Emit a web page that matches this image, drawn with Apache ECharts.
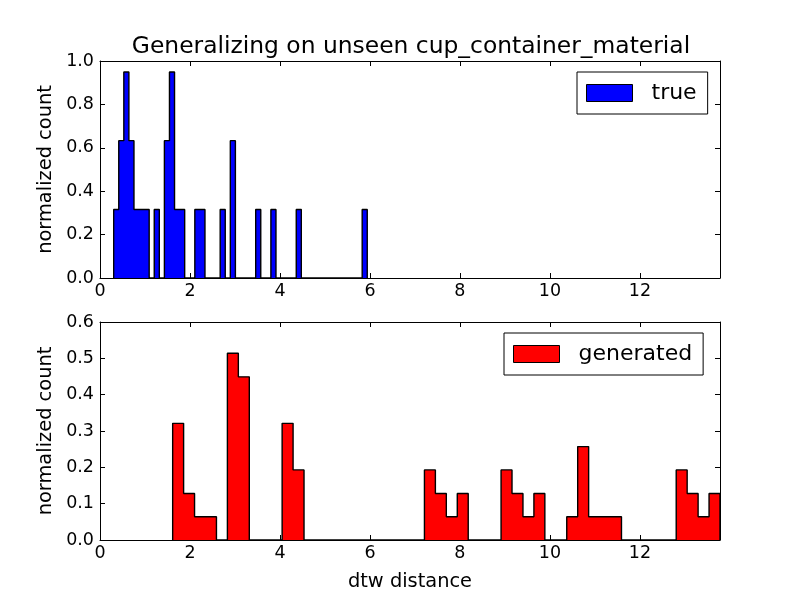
<!DOCTYPE html>
<html>
<head>
<meta charset="utf-8">
<script src="https://cdn.jsdelivr.net/npm/echarts@6/dist/echarts.min.js"></script>
<style>
  html, body { margin: 0; padding: 0; background: #fff; }
  #chart { width: 800px; height: 600px; }
</style>
</head>
<body>
<div id="chart"></div>
<script>
// histogram ranges (first edge, last edge), 50 bins each
const trueRange = [0.304, 5.94];
const genRange = [1.615, 13.78];

// normalized count per bin
const trueHeights = [
  0.316, 0.633, 0.949, 0.633, 0.316, 0.316, 0.316, 0, 0.316, 0,
  0.633, 0.949, 0.316, 0.316, 0, 0, 0.316, 0.316, 0, 0,
  0, 0.316, 0, 0.633, 0, 0, 0, 0, 0.316, 0,
  0, 0.316, 0, 0, 0, 0, 0.316, 0, 0, 0,
  0, 0, 0, 0, 0, 0, 0, 0, 0, 0.316
];
const genHeights = [
  0.321, 0.128, 0.064, 0.064, 0, 0.514, 0.449, 0, 0, 0,
  0.321, 0.193, 0, 0, 0, 0, 0, 0, 0, 0,
  0, 0, 0, 0.193, 0.128, 0.064, 0.128, 0, 0, 0,
  0.193, 0.128, 0.064, 0.128, 0, 0, 0.064, 0.257, 0.064, 0.064,
  0.064, 0, 0, 0, 0, 0, 0.193, 0.128, 0.064, 0.128
];

const xMax = 13.78;
const xTicks = [0, 2, 4, 6, 8, 10, 12];

const font = "DejaVu Sans";

// outline points for a stepfilled histogram
function stepPoints(range, heights) {
  const n = heights.length;
  const edge = (i) => range[0] + (range[1] - range[0]) * i / n;
  const pts = [[edge(0), 0]];
  for (let i = 0; i < n; i++) {
    pts.push([edge(i), heights[i]]);
  }
  pts.push([edge(n), heights[n - 1]]);
  pts.push([edge(n), 0]);
  return pts;
}

function xAxisFor(gridIndex, position, withLabels, name) {
  return {
    type: "value",
    gridIndex: gridIndex,
    position: position,
    min: 0,
    max: xMax,
    interval: 2,
    name: name || "",
    nameLocation: "middle",
    nameGap: 32,
    nameTextStyle: { color: "#000", fontSize: 19.4, fontFamily: font },
    axisLine: { show: true, onZero: false, lineStyle: { color: "#000", width: 1 } },
    axisTick: { show: true, inside: true, length: 5, lineStyle: { color: "#000" } },
    axisLabel: {
      show: withLabels,
      showMaxLabel: false,
      color: "#000",
      fontSize: 17.5,
      fontFamily: font,
      margin: 4,
      formatter: function (v) {
        return xTicks.indexOf(v) >= 0 ? String(v) : "";
      },
    },
    splitLine: { show: false },
  };
}

function yAxisFor(gridIndex, position, withLabels, max, interval) {
  return {
    type: "value",
    gridIndex: gridIndex,
    position: position,
    min: 0,
    max: max,
    interval: interval,
    name: withLabels ? "normalized count" : "",
    nameLocation: "middle",
    nameRotate: 90,
    nameGap: 44,
    nameTextStyle: { color: "#000", fontSize: 19.4, fontFamily: font },
    axisLine: { show: true, onZero: false, lineStyle: { color: "#000", width: 1 } },
    axisTick: { show: true, inside: true, length: 5, lineStyle: { color: "#000" } },
    axisLabel: {
      show: withLabels,
      color: "#000",
      fontSize: 17.5,
      fontFamily: font,
      margin: 6,
      formatter: function (v) {
        return v.toFixed(1);
      },
    },
    splitLine: { show: false },
  };
}

function legendFor(left, top, name, color) {
  return {
    left: left,
    top: top,
    orient: "horizontal",
    selectedMode: false,
    backgroundColor: "#fff",
    borderColor: "#000",
    borderWidth: 1,
    borderRadius: 0,
    padding: [10, 11, 10, 9],
    itemWidth: 46,
    itemHeight: 17,
    textStyle: { color: "#000", fontSize: 22, fontFamily: font, padding: [0, 0, 0, 14] },
    data: [
      {
        name: name,
        icon: "rect",
        itemStyle: { color: color, borderColor: "#000", borderWidth: 1 },
      },
    ],
  };
}

const chart = echarts.init(document.getElementById("chart"));

const option = {
  animation: false,
  backgroundColor: "#fff",
  title: {
    text: "Generalizing on unseen cup_container_material",
    left: 406,
    textAlign: "center",
    top: 30,
    textStyle: { color: "#000", fontSize: 23.4, fontWeight: "normal", fontFamily: font },
  },
  grid: [
    { left: 100, top: 61, width: 620, height: 217 },
    { left: 100, top: 322, width: 620, height: 218 },
  ],
  legend: [
    legendFor(577, 72, "true", "#0000ff"),
    legendFor(504, 333, "generated", "#ff0000"),
  ],
  xAxis: [
    xAxisFor(0, "bottom", true),
    xAxisFor(0, "top", false),
    xAxisFor(1, "bottom", true, "dtw distance"),
    xAxisFor(1, "top", false),
  ],
  yAxis: [
    yAxisFor(0, "left", true, 1.0, 0.2),
    yAxisFor(0, "right", false, 1.0, 0.2),
    yAxisFor(1, "left", true, 0.6, 0.1),
    yAxisFor(1, "right", false, 0.6, 0.1),
  ],
  series: [
    {
      name: "true",
      type: "line",
      xAxisIndex: 0,
      yAxisIndex: 0,
      step: "end",
      symbol: "none",
      color: "#0000ff",
      lineStyle: { color: "#000", width: 1.4 },
      areaStyle: { color: "#0000ff", opacity: 1 },
      data: stepPoints(trueRange, trueHeights),
    },
    {
      name: "generated",
      type: "line",
      xAxisIndex: 2,
      yAxisIndex: 2,
      step: "end",
      symbol: "none",
      color: "#ff0000",
      lineStyle: { color: "#000", width: 1.4 },
      areaStyle: { color: "#ff0000", opacity: 1 },
      data: stepPoints(genRange, genHeights),
    },
  ],
};

chart.setOption(option);
</script>
</body>
</html>
